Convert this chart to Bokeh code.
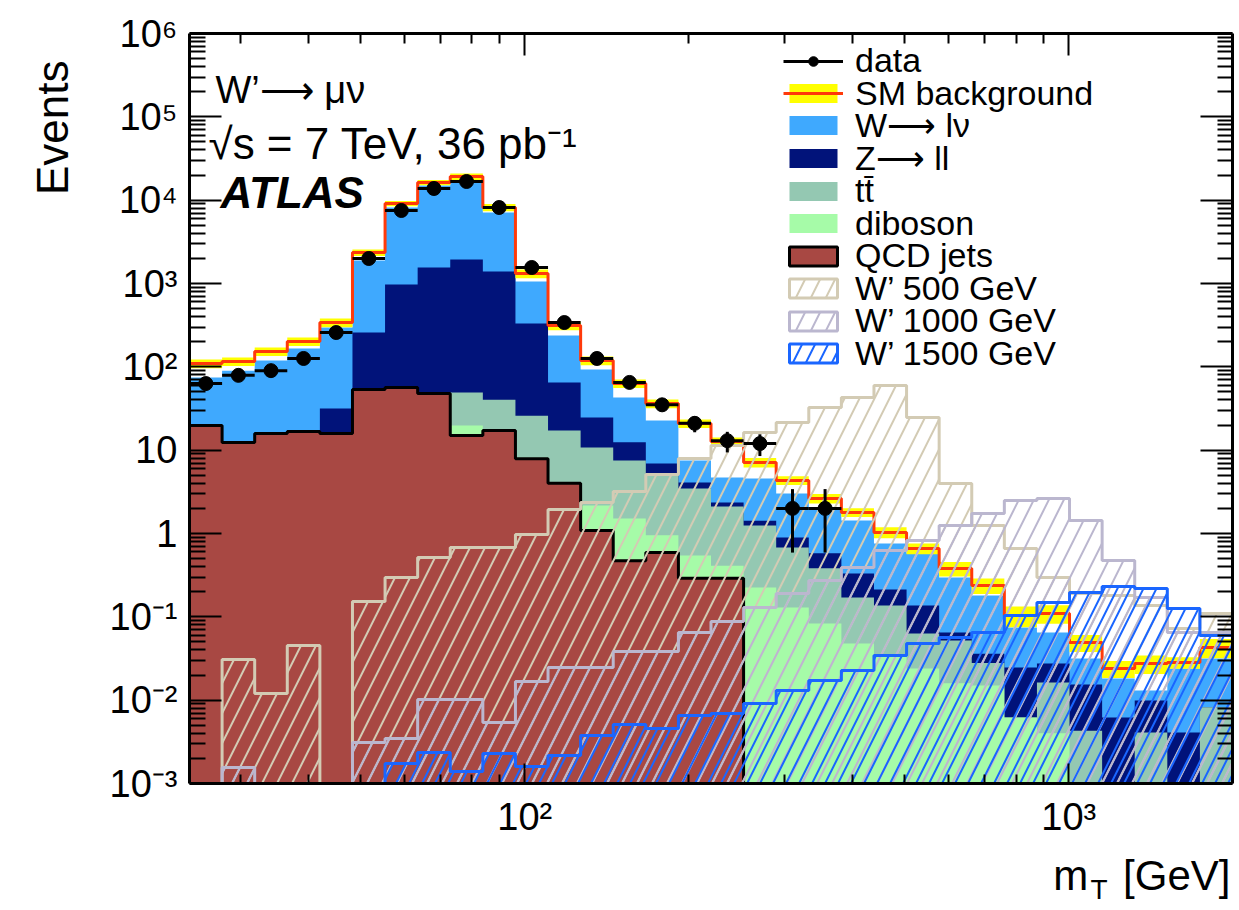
import numpy as np
from bokeh.plotting import figure
from bokeh.models import (FixedTicker, CustomJSTickFormatter, LogAxis, Label, Title,
                          Legend, LegendItem, ColumnDataSource)
from bokeh.embed import file_html
from bokeh.resources import INLINE

# ---------------- data ----------------
mt_lo, mt_hi, n_bins = 24.2, 2000.0, 32          # log-spaced m_T binning [GeV]

qcd = [19.8, 12.4, 15.8, 16.7, 15.8, 53.5, 56.5, 47.9, 15.0, 17.2, 7.9, 4.0, 1.09, 0.47,
       0.59, 0.29, 0.29, 0, 0, 0, 0, 0, 0, 0, 0, 0, 0, 0, 0, 0, 0, 0]
diboson = [0.05, 0.05, 0.05, 0.05, 0.1, 0.1, 0.1, 0.1, 4.8, 0.3, 0.2, 0.1, 1.08, 1.04,
           0.36, 0.255, 0.12, 0.225, 0.129, 0.083, 0.048, 0.034, 0.024, 0.016, 0.015,
           0.0062, 0.004, 0, 0, 0, 0, 0]
ttbar = [0.1, 0.1, 0.1, 0.1, 0.5, 0.5, 0.5, 0.5, 29.4, 22.9, 17.8, 13.1, 8.6, 6.0, 4.3,
         2.92, 1.7, 1.02, 0.55, 0.30, 0.123, 0.103, 0.039, 0.036, 0.013, 0, 0.0123,
         0.0043, 0, 0.0041, 0, 0.0082]
zll = [0.3, 0.3, 0.3, 0.3, 15.2, 204, 916, 1507, 1892, 1352, 305, 47.7, 13.9, 4.9, 1.67,
       0.62, 0.25, 0.18, 0.215, 0.195, 0.16, 0.076, 0.074, 0.013, 0.008, 0.0185, 0.0112,
       0.0111, 0.0062, 0.0058, 0.0041, 0]
wlnu = [54, 77, 103, 149, 264, 1630, 7190, 13440, 16260, 5720, 726, 173, 68.2, 30.5, 15.8,
        3.43, 2.34, 3.14, 2.13, 1.48, 1.10, 0.546, 0.438, 0.231, 0.144, 0.0498, 0.0374,
        0.0162, 0.012, 0.0032, 0.0199, 0.0234]
sm_total = [109.6, 115.9, 152.8, 201.4, 340.4, 2355, 9120, 16290, 19230, 8166, 1318, 313,
            119, 63.1, 36.3, 20.9, 12.7, 7.11, 4.33, 2.63, 1.79, 1.03, 0.661, 0.380, 0.238,
            0.104, 0.110, 0.0492, 0.024, 0.0275, 0.0283, 0.0429]
sm_rel_err = [0.12, 0.12, 0.12, 0.12, 0.12, 0.09, 0.07, 0.07, 0.09, 0.10, 0.12, 0.12, 0.12,
              0.12, 0.12, 0.12, 0.12, 0.13, 0.12, 0.13, 0.12, 0.15, 0.15, 0.20, 0.21, 0.28,
              0.25, 0.23, 0.23, 0.25, 0.16, 0.26]
data_events = [63, 79, 90, 126, 258, 1995, 7516, 13800, 16750, 8166, 1556, 340, 126, 65, 35,
               21, 13, 12, 2, 2, 0, 0, 0, 0, 0, 0, 0, 0, 0, 0, 0, 0]
data_err = [7.9, 8.9, 9.5, 11.2, 16.1, 44.7, 86.7, 117.5, 129.4, 90.4, 39.4, 18.4, 11.2, 8.1,
            5.9, 4.6, 3.6, 3.5, 1.41, 1.41, 0, 0, 0, 0, 0, 0, 0, 0, 0, 0, 0, 0]
wp500 = [0, 0.0308, 0.0120, 0.0453, 0, 0.153, 0.296, 0.515, 0.679, 0.679, 0.973, 1.94, 2.36,
         3.19, 5.11, 7.94, 11.4, 16.3, 21.5, 32.5, 42.9, 59.7, 24.7, 3.98, 1.25, 0.661,
         0.296, 0.19, 0.18, 0.137, 0.0724, 0.11]
wp1000 = [0, 0.00156, 0, 0, 0, 0.0031, 0.00347, 0.0102, 0.0102, 0.0054, 0.0167, 0.0247,
          0.0247, 0.0384, 0.0384, 0.0649, 0.0879, 0.129, 0.19, 0.273, 0.391, 0.625, 0.824,
          1.25, 1.74, 2.49, 2.63, 1.43, 0.474, 0.171, 0.0649, 0.0649]
wp1500 = [0, 0, 0, 0, 0, 0, 0.00174, 0.00236, 0.00139, 0.00229, 0.0016, 0.00217, 0.00377,
          0.0051, 0.00457, 0.00655, 0.00692, 0.00912, 0.0131, 0.0172, 0.0227, 0.0344,
          0.0479, 0.0565, 0.0649, 0.104, 0.149, 0.196, 0.231, 0.219, 0.126, 0.0597]

legend_labels = ["data", "SM background", "W\u27f6 l\u03bd", "Z\u27f6 ll", "tt\u0304",
                 "diboson", "QCD jets", "W\u2019 500 GeV", "W\u2019 1000 GeV",
                 "W\u2019 1500 GeV"]
y_ticks = [1e-3, 1e-2, 1e-1, 1, 10, 1e2, 1e3, 1e4, 1e5, 1e6]
x_ticks = [100, 1000]

# ---------------- derived ----------------
edges = np.geomspace(mt_lo, mt_hi, n_bins + 1)
centers = np.sqrt(edges[:-1] * edges[1:])
FLOOR = 1e-3

def step_poly(vals):
    xs, ys = [edges[0]], [FLOOR]
    for i, v in enumerate(vals):
        v = max(v, FLOOR)
        xs += [edges[i], edges[i + 1]]
        ys += [v, v]
    xs.append(edges[-1]); ys.append(FLOOR)
    return xs, ys

cum = np.cumsum(np.vstack([qcd, diboson, ttbar, zll, wlnu]), axis=0)

FONT = "Liberation Sans"
FR_L, FR_T, FR_R, FR_B = 187, 33, 1232, 783   # frame box on the page
W, H = 1236, 908

p = figure(width=W, height=H, x_axis_type="log", y_axis_type="log",
           x_range=(mt_lo, mt_hi), y_range=(1e-3, 1e6),
           output_backend="svg", toolbar_location=None,
           min_border_left=FR_L, min_border_top=FR_T, min_border_bottom=H - FR_B,
           min_border_right=W - FR_R)
p.grid.visible = False
p.outline_line_color = None
p.background_fill_color = "white"
p.border_fill_color = "white"

# stacked backgrounds (ROOT style: cumulative fills, largest first)
colors = {"w": "#3fa9fe", "z": "#01137a", "tt": "#94c8b2", "dib": "#a6fba8", "qcd": "#a84843"}
r_w = p.patch(*step_poly(cum[4]), fill_color=colors["w"], line_alpha=0)
r_z = p.patch(*step_poly(cum[3]), fill_color=colors["z"], line_alpha=0)
r_tt = p.patch(*step_poly(cum[2]), fill_color=colors["tt"], line_alpha=0)
r_dib = p.patch(*step_poly(cum[1]), fill_color=colors["dib"], line_alpha=0)
r_qcd = p.patch(*step_poly(cum[0]), fill_color=colors["qcd"], line_color="black", line_width=3)

# SM background band + line
sm = np.array(sm_total); rel = np.array(sm_rel_err)
r_band = p.quad(left=edges[:-1], right=edges[1:], bottom=sm * (1 - rel), top=sm * (1 + rel),
                fill_color="#ffff00", line_alpha=0)
r_sm = p.step(x=edges, y=list(sm) + [sm[-1]], mode="after", line_color="#ff3a0a", line_width=3)

# W' signals (hatched)
r_500 = p.patch(*step_poly(wp500), fill_alpha=0, hatch_pattern="/", hatch_color="#d3cbb4",
                hatch_scale=30, hatch_weight=2, line_color="#d3cbb4", line_width=3)
r_1000 = p.patch(*step_poly(wp1000), fill_alpha=0, hatch_pattern="/", hatch_color="#bbb7cf",
                 hatch_scale=30, hatch_weight=2, line_color="#bbb7cf", line_width=3)
r_1500 = p.patch(*step_poly(wp1500), fill_alpha=0, hatch_pattern="/", hatch_color="#1a66ff",
                 hatch_scale=26, hatch_weight=2, line_color="#1a66ff", line_width=3)

# data
d = np.array(data_events, dtype=float); de = np.array(data_err)
m = d > 0
src = ColumnDataSource(dict(x=centers[m], y=d[m], l=edges[:-1][m], r=edges[1:][m],
                            lo=(d - de)[m], hi=(d + de)[m]))
r_dh = p.segment(x0="l", x1="r", y0="y", y1="y", source=src, line_color="black", line_width=3)
r_dv = p.segment(x0="x", x1="x", y0="lo", y1="hi", source=src, line_color="black", line_width=3)
r_dp = p.scatter(x="x", y="y", source=src, size=14, color="black")

# axes
fmt = CustomJSTickFormatter(code="""
const e = Math.round(Math.log10(tick));
if (e === 0) return "1";
if (e === 1) return "10";
const m = {"0":"\u2070","1":"\u00b9","2":"\u00b2","3":"\u00b3","4":"\u2074","5":"\u2075",
           "6":"\u2076","7":"\u2077","8":"\u2078","9":"\u2079","-":"\u207b"};
return "10" + String(e).split("").map(c => m[c]).join("");
""")
blank = CustomJSTickFormatter(code="return '';")
yminor = [k * 10.0 ** n for n in range(-3, 6) for k in range(2, 10)]
xminor = [k * 10.0 ** n for n in range(1, 4) for k in range(2, 10) if mt_lo < k * 10.0 ** n < mt_hi]

def style(ax, ticks, minor, tin, mtin, labels=True):
    ax.ticker = FixedTicker(ticks=ticks, minor_ticks=minor)
    ax.formatter = fmt if labels else blank
    ax.major_tick_in = tin; ax.major_tick_out = 0
    ax.minor_tick_in = mtin; ax.minor_tick_out = 0
    ax.major_tick_line_width = 2; ax.minor_tick_line_width = 2
    ax.axis_line_width = 3
    ax.major_label_text_font = FONT
    ax.major_label_text_font_size = "38px"
    ax.major_label_text_color = "black"
    ax.major_label_standoff = 12 if labels else 0

style(p.yaxis[0], y_ticks, yminor, 32, 16)
style(p.xaxis[0], x_ticks, xminor, 20, 9)
ax_r = LogAxis(); style(ax_r, y_ticks, yminor, 32, 15, labels=False)
ax_t = LogAxis(); style(ax_t, x_ticks, xminor, 22, 10, labels=False)
p.add_layout(ax_r, "right")
p.add_layout(ax_t, "above")

# axis titles (ROOT style: at the far end of each axis)
p.add_layout(Title(text="Events", align="right", vertical_align="top", offset=27, standoff=55,
                   text_color="black", text_font=FONT, text_font_size="44px",
                   text_font_style="normal"), "left")
p.add_layout(Title(text="m\u00a0\u00a0\u00a0[GeV]", align="right", offset=2, standoff=19,
                   text_color="black", text_font=FONT, text_font_size="42px",
                   text_font_style="normal"), "below")
p.add_layout(Title(text="T", align="right", vertical_align="top", offset=125, standoff=-70,
                   text_color="black", text_font=FONT, text_font_size="28px",
                   text_font_style="normal"), "below")

# legend: one entry per row, rows spaced as in the reference
entries = [[r_dh, r_dp], [r_band, r_sm], [r_w], [r_z], [r_tt], [r_dib], [r_qcd],
           [r_500], [r_1000], [r_1500]]
ITEM_H = 40
for i, (lbl, rs) in enumerate(zip(legend_labels, entries)):
    yc = 60 + 32.5 * i                          # row centre on the page
    lg = Legend(items=[LegendItem(label=lbl, renderers=rs)],
                location=(781 - FR_L, FR_B - yc - ITEM_H / 2))
    lg.label_text_font = FONT
    lg.label_text_font_size = "34px"
    lg.label_text_color = "black"
    lg.glyph_width = 60
    lg.glyph_height = 24
    lg.label_standoff = 12
    lg.padding = 0
    lg.margin = 0
    lg.spacing = 0
    lg.background_fill_alpha = 0
    lg.border_line_alpha = 0
    p.add_layout(lg)

# annotations inside the frame (screen units from the frame's bottom-left)
def lab(text, x, y, size, **kw):
    p.add_layout(Label(text=text, x=x, y=y, x_units="screen", y_units="screen",
                       text_font=FONT, text_font_size=size, text_color="black",
                       text_baseline="alphabetic", **kw))

lab("W\u2019\u27f6 \u03bc\u03bd", 213 - FR_L, FR_B - 89, "38px")
lab("\u221as = 7 TeV, 36 pb\u207b\u00b9", 206 - FR_L, FR_B - 143, "44px")
lab("ATLAS", 218 - FR_L, FR_B - 192, "44px", text_font_style="bold italic")

open("out.html", "w", encoding="utf-8").write(file_html(p, INLINE))
